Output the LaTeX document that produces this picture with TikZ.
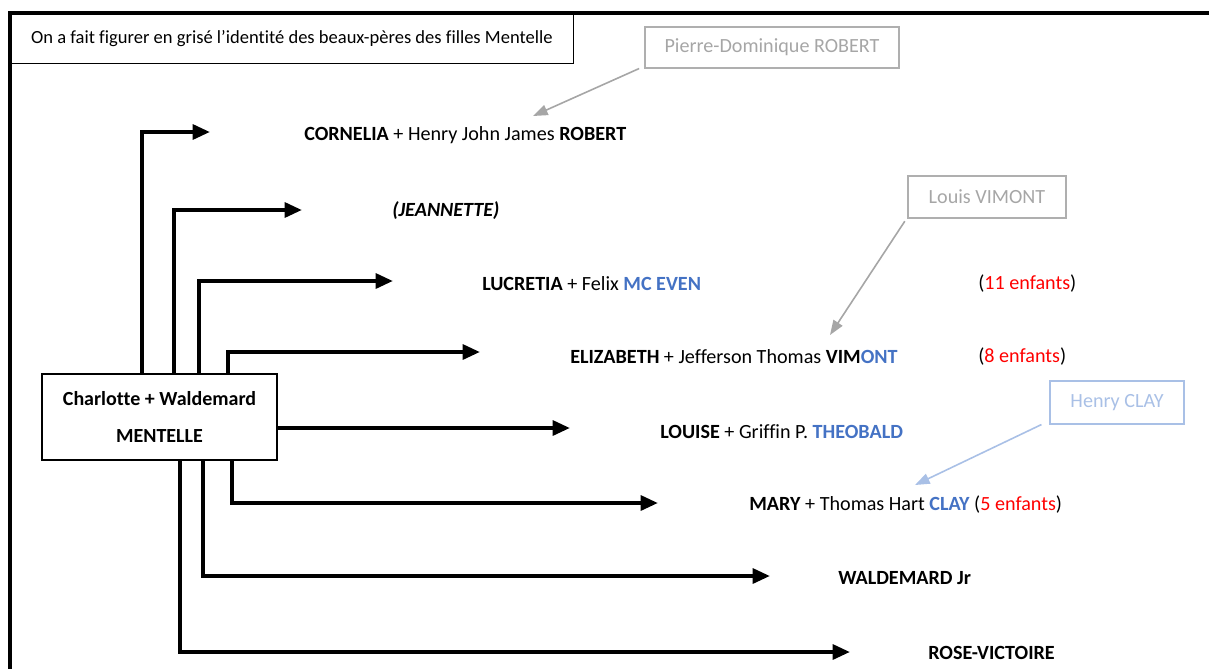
\documentclass[tikz,border=0pt]{standalone}
\usepackage{fontspec}
\setmainfont{Carlito}[Ligatures=NoCommon]
\usetikzlibrary{arrows.meta}
\definecolor{bl}{HTML}{4472C4}
\definecolor{rd}{HTML}{FF0000}
\definecolor{gr}{HTML}{A6A6A6}
\definecolor{lb}{HTML}{A9C0E6}
\tikzset{
  fat/.style={line width=3pt,-{Triangle[length=13pt,width=11pt]}},
  lab/.style={anchor=west,inner sep=0pt,font=\fontsize{15.1}{18}\selectfont},
  note/.style={draw,line width=0.8pt,inner sep=0pt,font=\fontsize{15.1}{18}\selectfont},
  thin/.style={line width=1.2pt,-{Triangle[length=11pt,width=8pt]}}
}
\begin{document}
\begin{tikzpicture}[x=0.75pt,y=-0.75pt]
\useasboundingbox (0,0) rectangle (1209,668);
% outer frame
\draw[line width=2.3pt] (10,680) -- (10,13) -- (1220,13);
% note
\node[draw,line width=0.8pt,anchor=north west,minimum width=422pt,minimum height=37.5pt,inner sep=0pt,font=\fontsize{13.9}{16}\selectfont] (info) at (10,13) {On a fait figurer en grisé l’identité des beaux-pères des filles Mentelle};
% main box
\node[draw,line width=1.6pt,minimum width=176pt,minimum height=64.5pt,inner sep=0pt,align=center,font=\bfseries\fontsize{15}{18}\selectfont] (main) at (159.5,417) {Charlotte + Waldemard\\[9.5pt]MENTELLE};
% tips
\coordinate (t1) at (210,132);
\coordinate (t2) at (302,210);
\coordinate (t3) at (393,281);
\coordinate (t4) at (480,352);
\coordinate (t5) at (570,428);
\coordinate (t6) at (658,503);
\coordinate (t7) at (770,576);
\coordinate (t8) at (850,652);
\draw[fat] (main.north west) ++(101,0) |- (t1);
\draw[fat] (main.north west) ++(133,0) |- (t2);
\draw[fat] (main.north west) ++(158,0) |- (t3);
\draw[fat] (main.north west) ++(187,0) |- (t4);
\draw[fat] (main.east |- t5) -- (t5);
\draw[fat] (main.south west) ++(191,0) |- (t6);
\draw[fat] (main.south west) ++(162,0) |- (t7);
\draw[fat] (main.south west) ++(139,0) |- (t8);
% labels
\node[lab] (cornelia) at (304,135.5) {\textbf{CORNELIA} + Henry John James \textbf{ROBERT}};
\node[lab] (jeannette) at (392,210.5) {\textbf{\textit{(JEANNETTE)}}};
\node[lab] (lucretia) at (482,283.5) {\textbf{LUCRETIA} + Felix \textbf{\textcolor{bl}{MC EVEN}}};
\node[lab] (e11) at (978,283.5) {(\textcolor{rd}{11 enfants})};
\node[lab] (elizabeth) at (570,356.5) {\textbf{ELIZABETH} + Jefferson Thomas \textbf{VIM\textcolor{bl}{ONT}}};
\node[lab] (e8) at (978,356.5) {(\textcolor{rd}{8 enfants})};
\node[lab] (louise) at (660,431.5) {\textbf{LOUISE} + Griffin P. \textbf{\textcolor{bl}{THEOBALD}}};
\node[lab] (mary) at (749,504.5) {\textbf{MARY} + Thomas Hart \textbf{\textcolor{bl}{CLAY}} (\textcolor{rd}{5 enfants})};
\node[lab] (waldemard) at (838,578.5) {\textbf{WALDEMARD Jr}};
\node[lab] (rose) at (928,652.5) {\textbf{ROSE-VICTOIRE}};
% grey boxes
\node[note,draw=gr!90,text=gr,minimum width=190.5pt,minimum height=30.75pt] (pierre) at (772,47.5) {\raisebox{-2pt}{Pierre-Dominique ROBERT}};
\node[note,draw=gr!90,text=gr,minimum width=118.5pt,minimum height=31.5pt] (louis) at (987,197) {\raisebox{-2pt}{Louis VIMONT}};
\node[note,draw=lb,text=lb,minimum width=100.5pt,minimum height=32.25pt] (henry) at (1117,402.5) {\raisebox{-2pt}{Henry CLAY}};
\coordinate (a1) at (533,116);
\coordinate (a2) at (830,335);
\coordinate (a3) at (915,485);
\draw[thin,gr] ([xshift=-4pt]pierre.south west) -- (a1);
\draw[thin,gr] ([xshift=-2pt,yshift=-2pt]louis.south west) -- (a2);
\draw[thin,lb] ([xshift=-6pt]henry.south west) -- (a3);
\end{tikzpicture}
\end{document}
